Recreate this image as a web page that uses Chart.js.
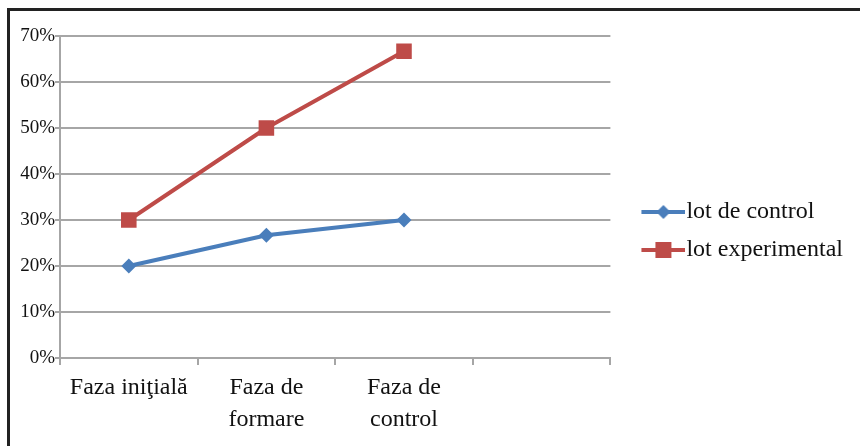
<!DOCTYPE html>
<html>
<head>
<meta charset="utf-8">
<script src="https://cdn.jsdelivr.net/npm/chart.js@4/dist/chart.umd.min.js"></script>
<style>
  body { margin: 0; background: #fff; }
  #wrap { position: relative; width: 860px; height: 446px; }
  #frame { position: absolute; left: 7px; top: 8px; right: 0; bottom: 0;
           border-top: 3px solid #222; border-left: 3px solid #222; pointer-events: none; }
</style>
</head>
<body>
<div id="wrap">
  <canvas id="myChart"></canvas>
  <div id="frame"></div>
</div>
<script>
// data
const phases = ["Faza iniţială", ["Faza de", "formare"], ["Faza de", "control"], ""];
const lotControl = [20, 26.7, 30, null];
const lotExperimental = [30, 50, 66.7, null];
const seriesNames = ["lot de control", "lot experimental"];
const yTicks = [0, 10, 20, 30, 40, 50, 60, 70];

const blue = "#4a7ebb";
const red = "#be4b48";
const gridGrey = "#a6a6a6";
const serif = "'Liberation Serif', 'Times New Roman', serif";

// legend key: short line with the marker on it,
// the left part of the image is left empty so the key sits away from the plot
function legendIcon(color, shape) {
  const c = document.createElement("canvas");
  c.width = 72;
  c.height = 20;
  const g = c.getContext("2d");
  const x0 = 28;
  g.strokeStyle = color;
  g.lineWidth = 4;
  g.beginPath();
  g.moveTo(x0, 10);
  g.lineTo(x0 + 44, 10);
  g.stroke();
  g.fillStyle = color;
  const cx = x0 + 22;
  if (shape == "diamond") {
    g.beginPath();
    g.moveTo(cx, 3);
    g.lineTo(cx + 7, 10);
    g.lineTo(cx, 17);
    g.lineTo(cx - 7, 10);
    g.closePath();
    g.fill();
  } else {
    g.fillRect(cx - 8, 2, 16, 16);
  }
  return c;
}

const icons = [legendIcon(blue, "diamond"), legendIcon(red, "square")];

const chartCtx = document.getElementById("myChart").getContext("2d");

const chart = new Chart(chartCtx, {
  type: "line",
  data: {
    labels: phases,
    datasets: [
      {
        label: seriesNames[0],
        data: lotControl,
        borderColor: blue,
        backgroundColor: blue,
        borderWidth: 4,
        pointStyle: "rectRot",
        pointRadius: 7.5,
        pointHoverRadius: 7.5,
        pointBorderWidth: 0,
        tension: 0,
      },
      {
        label: seriesNames[1],
        data: lotExperimental,
        borderColor: red,
        backgroundColor: red,
        borderWidth: 4,
        pointStyle: "rect",
        pointRadius: 11,
        pointHoverRadius: 11,
        pointBorderWidth: 0,
        tension: 0,
      },
    ],
  },
  options: {
    responsive: true,
    maintainAspectRatio: false,
    animation: false,
    layout: {
      padding: { top: 36, left: 10, right: 7, bottom: 20 },
    },
    plugins: {
      tooltip: { enabled: false },
      legend: {
        position: "right",
        align: "center",
        maxWidth: 400,
        labels: {
          usePointStyle: true,
          pointStyleWidth: 50,
          padding: 14,
          color: "#111",
          font: { family: serif, size: 24 },
          generateLabels: (ch) =>
            ch.data.datasets.map((ds, i) => ({
              text: ds.label,
              pointStyle: icons[i],
              fillStyle: ds.borderColor,
              strokeStyle: ds.borderColor,
              lineWidth: 0,
              fontColor: "#111",
              datasetIndex: i,
              hidden: false,
            })),
        },
      },
    },
    scales: {
      x: {
        offset: true,
        grid: {
          offset: true,
          drawOnChartArea: false,
          drawTicks: true,
          tickLength: 7,
          color: gridGrey,
          lineWidth: 2,
        },
        border: { color: gridGrey, width: 2 },
        ticks: {
          color: "#111",
          padding: 7,
          maxRotation: 0,
          autoSkip: false,
          font: { family: serif, size: 24, lineHeight: 1.33 },
        },
        afterFit: (scale) => {
          scale.height = 68;
        },
      },
      y: {
        min: 0,
        max: 70,
        afterBuildTicks: (scale) => {
          scale.ticks = yTicks.map((v) => ({ value: v }));
        },
        grid: {
          color: gridGrey,
          lineWidth: 2,
          tickLength: 5,
        },
        border: { color: gridGrey, width: 2 },
        ticks: {
          color: "#111",
          padding: 0,
          font: { family: serif, size: 19 },
          callback: (v) => v + "%",
        },
        afterFit: (scale) => {
          scale.width = 50;
        },
      },
    },
  },
});
</script>
</body>
</html>
